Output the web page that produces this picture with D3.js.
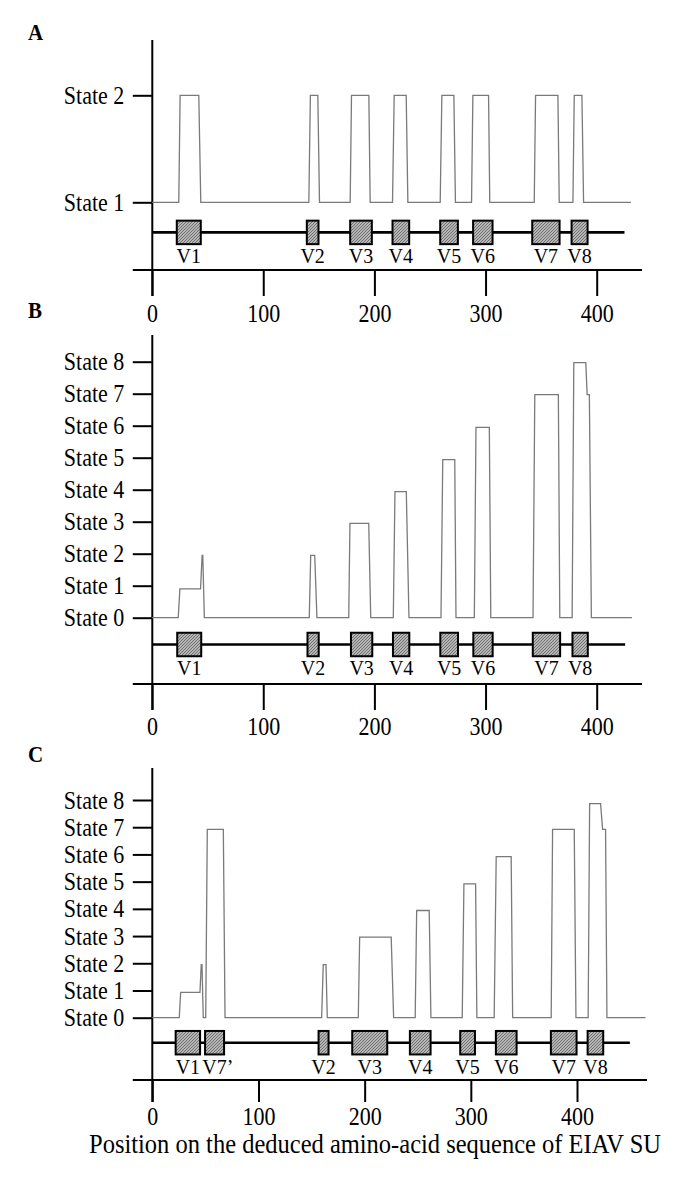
<!DOCTYPE html>
<html><head><meta charset="utf-8">
<script src="https://cdn.jsdelivr.net/npm/d3@7"></script>
<style>
body{margin:0;background:#fff}
svg{display:block}
text{font-family:"Liberation Serif","Times New Roman",Times,serif;fill:#000}
</style>
</head><body>
<svg id="chart" width="685" height="1181"></svg>
<script>
// ---------------- DATA ----------------
const panelLetters = ["A", "B", "C"];
const xTickValues = [0, 100, 200, 300, 400];
const xTickLabels = ["0", "100", "200", "300", "400"];

const stateValuesA = [1, 2];
const stateLabelsA = ["State 1", "State 2"];
const stateValuesBC = [0, 1, 2, 3, 4, 5, 6, 7, 8];
const stateLabelsBC = ["State 0", "State 1", "State 2", "State 3", "State 4", "State 5", "State 6", "State 7", "State 8"];

// Panel A profile (position, state)
const profileA_pos   = [0, 24, 25.2, 42, 43.8, 141, 142.4, 149.1, 150.6, 178.2, 179.4, 195, 196.2, 216.3, 217.8, 228.6, 230.1, 259.2, 260.7, 271.5, 272.9, 287.4, 288.6, 302.7, 303.8, 343.8, 345, 365.1, 366.3, 378.6, 379.8, 386.7, 388.2, 430.8];
const profileA_state = [1, 1, 2, 2, 1, 1, 2, 2, 1, 1, 2, 2, 1, 1, 2, 2, 1, 1, 2, 2, 1, 1, 2, 2, 1, 1, 2, 2, 1, 1, 2, 2, 1, 1];

// Panel B profile
const profileB_pos   = [0, 23.5, 25, 43.6, 45, 45.6, 47, 141.4, 142.7, 146.3, 148.3, 176.9, 178, 194.9, 196.7, 217, 218.5, 228.7, 231.1, 259.9, 261.5, 272.3, 273.4, 289.9, 291.4, 303.4, 304.7, 342.7, 344.3, 365.5, 366.8, 377.9, 379.4, 390.2, 391.4, 393.4, 395.2, 431.7];
const profileB_state = [0, 0, 0.9, 0.9, 1.95, 1.95, 0, 0, 1.95, 1.95, 0, 0, 2.95, 2.95, 0, 0, 3.94, 3.94, 0, 0, 4.94, 4.94, 0, 0, 5.95, 5.95, 0, 0, 6.97, 6.97, 0, 0, 7.97, 7.97, 6.97, 6.97, 0, 0];

// Panel C profile
const profileC_pos   = [0, 25.4, 26.7, 44.9, 46.1, 46.8, 48, 50.3, 51.8, 66.9, 68.5, 159.5, 161, 163.6, 164.8, 194, 195.3, 225, 227.3, 247.6, 249, 260.8, 262.4, 291.9, 293.5, 304.5, 305.7, 322, 323.9, 338, 339.4, 375.7, 377, 397.4, 399, 410.5, 411.9, 422.2, 424.1, 426.9, 428.2, 464.6];
const profileC_state = [0, 0, 0.93, 0.93, 1.95, 1.95, 0, 0, 6.92, 6.92, 0, 0, 1.95, 1.95, 0, 0, 2.96, 2.96, 0, 0, 3.94, 3.94, 0, 0, 4.92, 4.92, 0, 0, 5.92, 5.92, 0, 0, 6.92, 6.92, 0, 0, 7.87, 7.87, 6.92, 6.92, 0, 0];

// Variable regions
const regionNamesAB = ["V1", "V2", "V3", "V4", "V5", "V6", "V7", "V8"];
const regionStartA = [22.2, 139.2, 178.2, 216.3, 259.2, 288.8, 342.0, 377.4];
const regionEndA   = [43.8, 149.7, 197.7, 231.3, 275.1, 306.3, 366.6, 391.8];
const regionStartB = [22.6, 139.8, 178.9, 216.7, 259.3, 289.0, 342.5, 378.2];
const regionEndB   = [44.2, 149.9, 198.1, 231.4, 275.2, 306.4, 367.1, 392.0];
const regionNamesC = ["V1", "V7\u2019", "V2", "V3", "V4", "V5", "V6", "V7", "V8"];
const regionStartC = [22.0, 49.7, 156.6, 188.3, 242.6, 290.0, 323.6, 375.4, 410.0];
const regionEndC   = [45.0, 67.6, 166.0, 221.3, 262.1, 303.9, 343.1, 399.6, 424.7];

// Length of the sequence bar (gene line) per panel
const geneEnd = [425, 425.6, 449.8];

const xAxisTitle = "Position on the deduced amino-acid sequence of EIAV SU";

// ---------------- LAYOUT ----------------
const svg = d3.select("#chart");
const axisX = 152.3;
const STRETCH = 1.1; // glyphs in the original are slightly taller than wide

const defs = svg.append("defs");
const pat = defs.append("pattern").attr("id", "hatch")
  .attr("patternUnits", "userSpaceOnUse").attr("width", 3).attr("height", 3);
pat.append("rect").attr("width", 3).attr("height", 3).attr("fill", "#b5b5b5");
pat.append("path").attr("d", "M-1,1 L1,-1 M0,3 L3,0 M2,4 L4,2")
  .attr("stroke", "#6a6a6a").attr("stroke-width", 0.9);

const panels = [
  { letterY: 39.5, axisTop: 40, yDomain: [1, 2], yRange: [202.3, 95.3],
    stateVals: stateValuesA, stateLabels: stateLabelsA,
    pos: profileA_pos, st: profileA_state,
    names: regionNamesAB, rs: regionStartA, re: regionEndA,
    geneY: 232.4, labelBase: 263.3, xAxisY: 270, tickLen: 26, tickLabelBase: 321.7,
    xRange: [152.1, 596.7], xAxisRight: 642 },
  { letterY: 318.3, axisTop: 335, yDomain: [0, 8], yRange: [617.7, 361.7],
    stateVals: stateValuesBC, stateLabels: stateLabelsBC,
    pos: profileB_pos, st: profileB_state,
    names: regionNamesAB, rs: regionStartB, re: regionEndB,
    geneY: 644.5, labelBase: 675, xAxisY: 684, tickLen: 26, tickLabelBase: 735,
    xRange: [152.1, 596.7], xAxisRight: 642 },
  { letterY: 761.7, axisTop: 768, yDomain: [0, 8], yRange: [1017.7, 800],
    stateVals: stateValuesBC, stateLabels: stateLabelsBC,
    pos: profileC_pos, st: profileC_state,
    names: regionNamesC, rs: regionStartC, re: regionEndC,
    geneY: 1042.7, labelBase: 1074.3, xAxisY: 1080, tickLen: 22, tickLabelBase: 1125,
    xRange: [152.3, 577], xAxisRight: 647 }
];

// helper to measure text widths
const measurer = svg.append("text").attr("font-size", 20).attr("opacity", 0);
function textW(s, size) {
  measurer.attr("font-size", size).text(s);
  return measurer.node().getComputedTextLength();
}
// vertical stretch about the baseline y
function stretchAt(y) {
  return `translate(0,${y}) scale(1,${STRETCH})`;
}

panels.forEach((p, i) => {
  const g = svg.append("g");
  const x = d3.scaleLinear().domain([0, 400]).range(p.xRange);
  const y = d3.scaleLinear().domain(p.yDomain).range(p.yRange);

  // panel letter
  g.append("text").attr("x", 28).attr("y", 0)
    .attr("transform", stretchAt(p.letterY))
    .attr("font-size", 21).attr("font-weight", "bold").text(panelLetters[i]);

  // y axis (ticks + labels)
  const yAxis = d3.axisLeft(y).tickValues(p.stateVals)
    .tickFormat((d, k) => p.stateLabels[k]).tickSize(19.5).tickPadding(8.5);
  const yg = g.append("g").attr("transform", `translate(${axisX},0)`).call(yAxis);
  yg.select(".domain").remove();
  yg.selectAll(".tick line").attr("stroke", "#000").attr("stroke-width", 2);
  yg.selectAll(".tick text").attr("font-size", 22)
    .attr("font-family", '"Liberation Serif","Times New Roman",serif')
    .attr("fill", "#000").attr("y", 0).attr("dy", 0)
    .attr("transform", stretchAt(8));

  // vertical axis line
  g.append("line").attr("x1", axisX).attr("x2", axisX)
    .attr("y1", p.axisTop).attr("y2", p.xAxisY + p.tickLen)
    .attr("stroke", "#000").attr("stroke-width", 2);

  // x axis
  const xAxis = d3.axisBottom(x).tickValues(xTickValues)
    .tickFormat((d, k) => xTickLabels[k]).tickSize(p.tickLen);
  const xg = g.append("g").attr("transform", `translate(0,${p.xAxisY})`).call(xAxis);
  xg.select(".domain").remove();
  xg.selectAll(".tick line").attr("stroke", "#000").attr("stroke-width", 2);
  xg.selectAll(".tick text").attr("font-size", 22)
    .attr("font-family", '"Liberation Serif","Times New Roman",serif')
    .attr("fill", "#000").attr("y", 0).attr("dy", 0)
    .attr("transform", stretchAt(p.tickLabelBase - p.xAxisY));
  g.append("line").attr("x1", axisX - 19.5).attr("x2", p.xAxisRight)
    .attr("y1", p.xAxisY).attr("y2", p.xAxisY)
    .attr("stroke", "#000").attr("stroke-width", 2);

  // state profile
  const pts = p.pos.map((v, k) => [v, p.st[k]]);
  const line = d3.line().x(d => x(d[0])).y(d => y(d[1]));
  g.append("path").attr("d", line(pts)).attr("fill", "none")
    .attr("stroke", "#7a7a7a").attr("stroke-width", 1.3);

  // gene line
  g.append("line").attr("x1", axisX).attr("x2", x(geneEnd[i]))
    .attr("y1", p.geneY).attr("y2", p.geneY)
    .attr("stroke", "#000").attr("stroke-width", 2.6);

  // region boxes
  const boxH = 23.5;
  g.selectAll("rect.box").data(p.names).enter().append("rect")
    .attr("class", "box")
    .attr("x", (d, k) => x(p.rs[k]))
    .attr("width", (d, k) => x(p.re[k]) - x(p.rs[k]))
    .attr("y", p.geneY - boxH / 2).attr("height", boxH)
    .attr("fill", "url(#hatch)").attr("stroke", "#000").attr("stroke-width", 2);

  // region labels (centered on the label without trailing prime)
  g.selectAll("text.vlab").data(p.names).enter().append("text")
    .attr("class", "vlab")
    .attr("font-size", 20)
    .attr("text-anchor", "start")
    .attr("x", (d, k) => {
      const c = (x(p.rs[k]) + x(p.re[k])) / 2;
      const base = d.replace("\u2019", "");
      return c - textW(base, 20) / 2;
    })
    .attr("y", 0)
    .attr("transform", stretchAt(p.labelBase))
    .text(d => d);
});

// axis title
svg.append("text").attr("x", 375).attr("y", 0)
  .attr("transform", stretchAt(1152.5))
  .attr("text-anchor", "middle").attr("font-size", 24.5).text(xAxisTitle);

measurer.remove();
</script>
</body></html>
